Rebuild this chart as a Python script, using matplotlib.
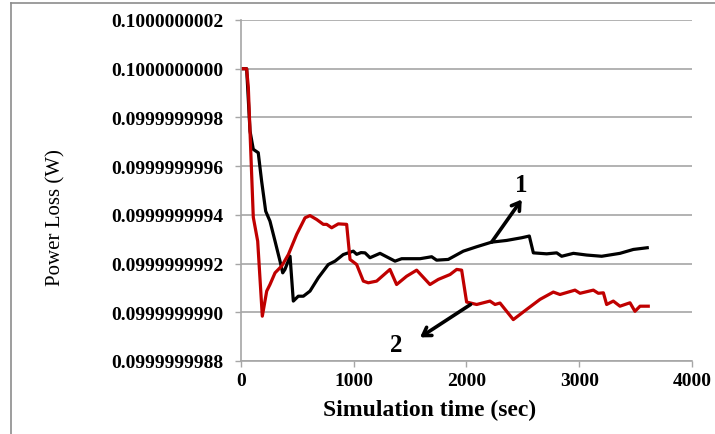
import numpy as np
import matplotlib
matplotlib.use("Agg")
import matplotlib.pyplot as plt
from matplotlib.lines import Line2D
from matplotlib.ticker import FuncFormatter

# power loss curves, stored as offsets from 0.1 W in units of 1e-10 W
case1_time = [10, 50, 80, 109, 153, 183, 219, 257, 302, 346, 370, 390, 435, 464,
              508, 553, 612, 686, 774, 834, 907, 996, 1026, 1064, 1100, 1144,
              1233, 1366, 1425, 1588, 1691, 1735, 1838, 1972, 2090, 2223, 2356,
              2489, 2557, 2593, 2711, 2800, 2844, 2948, 3066, 3199, 3361, 3480, 3603]
case1_offset = [0, 0, -2.56, -3.31, -3.45, -4.62, -5.85, -6.26, -7.08, -7.9, -8.38,
                -8.24, -7.7, -9.54, -9.34, -9.34, -9.13, -8.58, -8.04, -7.9, -7.63,
                -7.49, -7.62, -7.55, -7.56, -7.76, -7.58, -7.9, -7.8, -7.8, -7.72,
                -7.86, -7.83, -7.49, -7.31, -7.12, -7.05, -6.94, -6.87, -7.56, -7.6,
                -7.56, -7.7, -7.58, -7.65, -7.7, -7.58, -7.42, -7.35]

case2_time = [10, 50, 65, 109, 148, 189, 228, 257, 302, 361, 420, 494, 568, 612, 671,
              730, 760, 804, 863, 937, 967, 1026, 1085, 1129, 1203, 1321, 1380, 1469,
              1558, 1676, 1750, 1854, 1913, 1957, 2001, 2090, 2208, 2253, 2297, 2415,
              2534, 2652, 2770, 2829, 2962, 3007, 3125, 3169, 3214, 3243, 3302, 3361,
              3450, 3494, 3539, 3612]
case2_offset = [0, 0, -0.77, -6.1, -7.08, -10.16, -9.13, -8.86, -8.38, -8.1, -7.63,
                -6.8, -6.12, -6.03, -6.19, -6.39, -6.39, -6.53, -6.37, -6.39, -7.83,
                -8.04, -8.72, -8.79, -8.72, -8.24, -8.86, -8.52, -8.27, -8.86, -8.65,
                -8.45, -8.24, -8.27, -9.58, -9.68, -9.54, -9.68, -9.62, -10.3, -9.88,
                -9.47, -9.17, -9.27, -9.09, -9.22, -9.09, -9.22, -9.2, -9.68, -9.54,
                -9.75, -9.61, -9.96, -9.75, -9.75]

base = 0.1
unit = 1e-10
y_ticks = base + np.arange(-12, 3, 2) * unit
x_ticks = [0, 1000, 2000, 3000, 4000]

loss1 = base + np.array(case1_offset) * unit
loss2 = base + np.array(case2_offset) * unit

plt.rcParams['font.family'] = ['Liberation Serif', 'DejaVu Serif']

fig = plt.figure(figsize=(7.15, 4.35), dpi=100)
ax = fig.add_axes([241 / 715, 1 - 362 / 435, 451 / 715, 341 / 435])

ax.plot(case1_time, loss1, color='black', lw=2.3, solid_joinstyle='round')
ax.plot(case2_time, loss2, color='#c00000', lw=2.3, solid_joinstyle='round')

ax.set_xlim(0, 4000)
ax.set_ylim(y_ticks[0], y_ticks[-1])
ax.set_xticks(x_ticks)
ax.set_yticks(y_ticks)
ax.yaxis.set_major_formatter(FuncFormatter(lambda v, p: f"{v:.10f}"))
ax.grid(axis='y', color='#a6a6a6', lw=1.2)
ax.set_axisbelow(True)

for s in ['top', 'right']:
    ax.spines[s].set_visible(False)
for s in ['left', 'bottom']:
    ax.spines[s].set_color('#a6a6a6')
    ax.spines[s].set_linewidth(1.2)

ax.tick_params(axis='both', colors='#a6a6a6', length=4, width=1.0, direction='out',
               labelcolor='black', labelsize=14)
ax.tick_params(axis='y', pad=8.5)
ax.tick_params(axis='x', pad=4)
for lab in ax.get_xticklabels() + ax.get_yticklabels():
    lab.set_fontweight('bold')

ax.set_xlabel('Simulation time (sec)', fontsize=17, fontweight='bold')
ax.xaxis.set_label_coords(0.417, -0.112)
ax.set_ylabel('Power Loss (W)', fontsize=15)
ax.yaxis.set_label_coords(-0.39, 0.425)

# labelled arrows for the two cases
arrow = dict(arrowstyle='->,head_length=0.55,head_width=0.35', color='black',
             lw=2.6, shrinkA=0, shrinkB=0)
ax.annotate('', xy=(2490, base - 5.37 * unit), xytext=(2223, base - 7.12 * unit),
            arrowprops=arrow)
ax.text(2483, base - 4.75 * unit, '1', fontsize=18, fontweight='bold',
        ha='center', va='center')
ax.annotate('', xy=(1588, base - 11.03 * unit), xytext=(2036, base - 9.68 * unit),
            arrowprops=arrow)
ax.text(1375, base - 11.32 * unit, '2', fontsize=18, fontweight='bold',
        ha='center', va='center')

# outer frame (left and top edges)
frame = '#8c8c8c'
fig.add_artist(Line2D([11 / 715, 11 / 715], [0, 1 - 4 / 435], color=frame, lw=1.2))
fig.add_artist(Line2D([11 / 715, 1], [1 - 4 / 435, 1 - 4 / 435], color=frame, lw=1.2))

fig.savefig('out.png', dpi=100)
